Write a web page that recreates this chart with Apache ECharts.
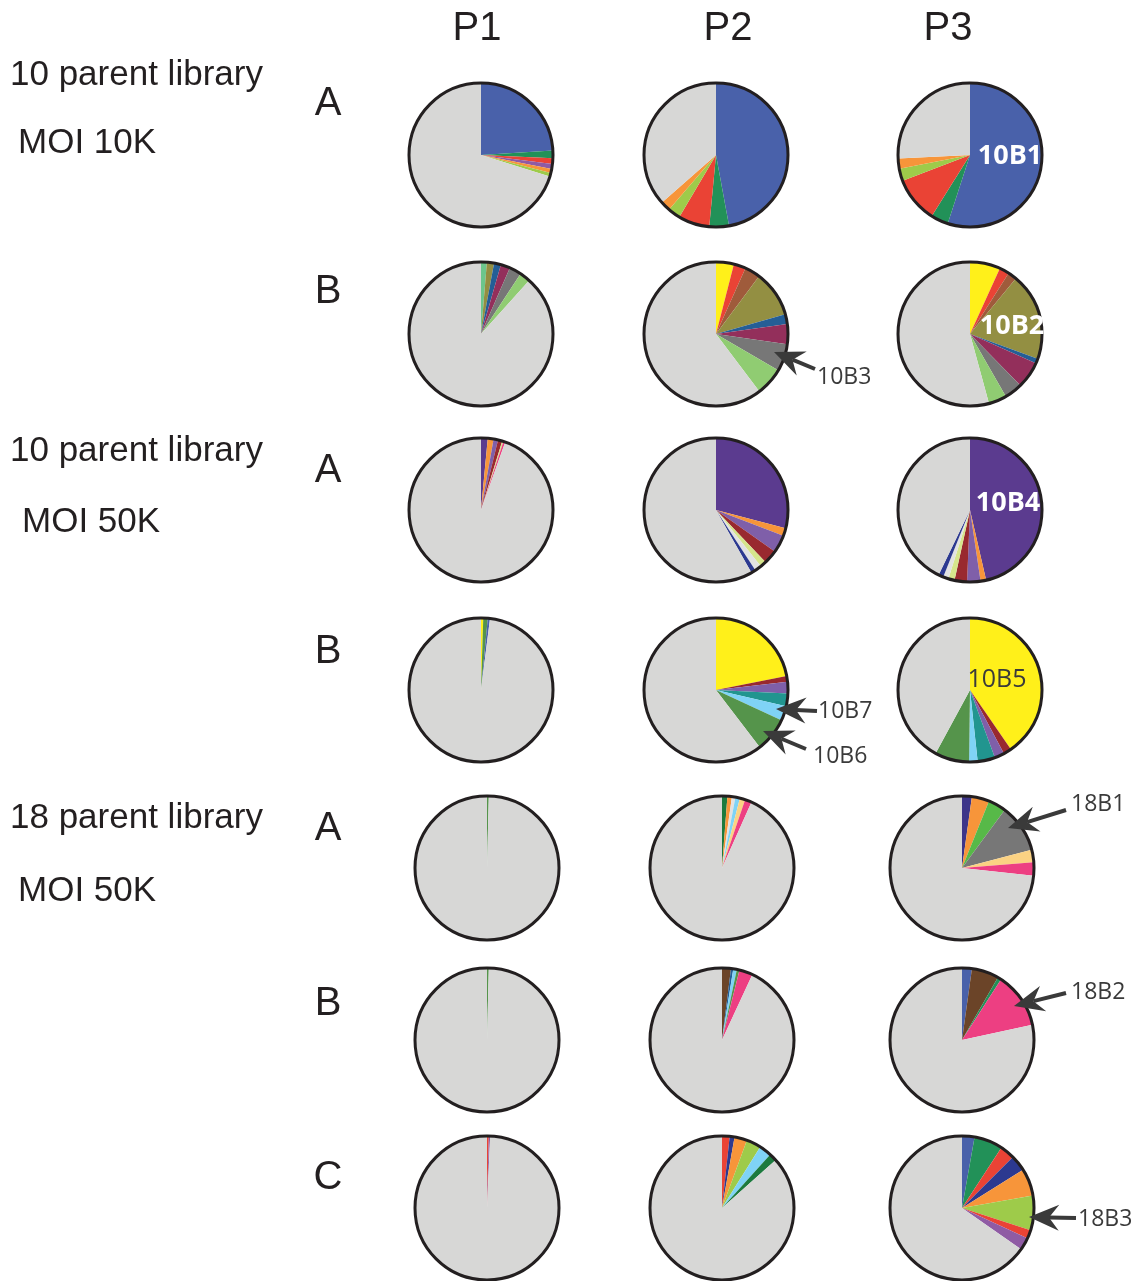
<!DOCTYPE html>
<html>
<head>
<meta charset="utf-8">
<script src="https://cdn.jsdelivr.net/npm/echarts@6/dist/echarts.min.js"></script>
<style>
  html, body { margin: 0; padding: 0; background: #fff; }
  #chart { width: 1140px; height: 1281px; }
</style>
</head>
<body>
<div id="chart"></div>
<script>
// Passage columns and experiment groups
const passages = ['P1', 'P2', 'P3'];
const groupTitles = ['10 parent library', '10 parent library', '18 parent library'];
const groupMoi = ['MOI 10K', 'MOI 50K', 'MOI 50K'];
const replicateLetters = ['A', 'B', 'A', 'B', 'A', 'B', 'C'];

// Clone shares (%) per replicate and passage; the last entry is all remaining clones
const tenK_A_P1 = [24, 1.7, 1.3, 1.1, 0.9, 0.8, 70.2];
const tenK_A_P1_clones = ['blue', 'green', 'red', 'purple', 'orange', 'lime', 'other'];
const tenK_A_P2 = [47.1, 4.4, 7.0, 2.8, 2.2, 36.5];
const tenK_A_P2_clones = ['blue', 'green', 'red', 'lime', 'orange', 'other'];
const tenK_A_P3 = [55.0, 3.9, 10.3, 2.75, 2.25, 25.8];
const tenK_A_P3_clones = ['blue', 'green', 'red', 'lime', 'orange', 'other'];

const tenK_B_P1 = [1.3, 1.6, 1.55, 2.1, 2.7, 2.4, 88.3];
const tenK_B_P1_clones = ['mint', 'olive', 'steel', 'maroon', 'grey', 'leaf', 'other'];
const tenK_B_P2 = [4.0, 2.7, 3.5, 10.4, 2.2, 4.5, 6.1, 6.3, 60.3];
const tenK_B_P2_clones = ['yellow', 'red', 'brown', 'olive', 'steel', 'maroon', 'grey', 'leaf', 'other'];
const tenK_B_P3 = [6.8, 2.2, 2.0, 19.6, 1.05, 6.0, 4.05, 4.05, 54.25];
const tenK_B_P3_clones = ['yellow', 'red', 'brown', 'olive', 'steel', 'maroon', 'grey', 'leaf', 'other'];

const fiftyK_A_P1 = [1.5, 1.3, 1.0, 0.95, 0.3, 0.4, 94.55];
const fiftyK_A_P1_clones = ['violet', 'orange', 'lavender', 'wine', 'pale', 'pink', 'other'];
const fiftyK_A_P2 = [29.1, 1.7, 4.0, 3.1, 1.4, 1.5, 1.0, 58.2];
const fiftyK_A_P2_clones = ['violet', 'orange', 'lavender', 'wine', 'pale', 'silver', 'navy', 'other'];
const fiftyK_A_P3 = [46.4, 1.25, 3.0, 2.8, 1.4, 1.2, 1.1, 42.85];
const fiftyK_A_P3_clones = ['violet', 'orange', 'lavender', 'wine', 'pale', 'silver', 'navy', 'other'];

const fiftyK_B_P1 = [0.5, 1.0, 0.5, 98.0];
const fiftyK_B_P1_clones = ['yellow', 'fern', 'blue', 'other'];
const fiftyK_B_P2 = [21.9, 1.3, 2.6, 2.8, 3.3, 7.7, 60.4];
const fiftyK_B_P2_clones = ['yellow', 'wine', 'lavender', 'teal', 'sky', 'fern', 'other'];
const fiftyK_B_P3 = [40.4, 1.8, 2.2, 3.9, 1.9, 7.7, 42.1];
const fiftyK_B_P3_clones = ['yellow', 'wine', 'lavender', 'teal', 'sky', 'fern', 'other'];

const lib18_A_P1 = [0.4, 99.6];
const lib18_A_P1_clones = ['fern', 'other'];
const lib18_A_P2 = [1.2, 1.0, 0.8, 1.0, 1.2, 1.5, 93.3];
const lib18_A_P2_clones = ['forest', 'orange', 'silver', 'sky', 'peach', 'pink', 'other'];
const lib18_A_P3 = [2.2, 3.9, 4.0, 10.8, 2.8, 3.0, 73.3];
const lib18_A_P3_clones = ['indigo', 'orange', 'leafgreen', 'grey', 'peach', 'pink', 'other'];

const lib18_B_P1 = [0.4, 99.6];
const lib18_B_P1_clones = ['fern', 'other'];
const lib18_B_P2 = [2.0, 0.5, 0.8, 0.6, 3.0, 93.1];
const lib18_B_P2_clones = ['cocoa', 'steel', 'sky', 'fern', 'pink', 'other'];
const lib18_B_P3 = [2.2, 6.1, 0.8, 12.5, 78.4];
const lib18_B_P3_clones = ['blue', 'cocoa', 'green', 'pink', 'other'];

const lib18_C_P1 = [0.4, 0.3, 99.3];
const lib18_C_P1_clones = ['red', 'purple', 'other'];
const lib18_C_P2 = [1.7, 1.1, 2.8, 3.3, 2.8, 1.7, 86.6];
const lib18_C_P2_clones = ['red', 'navy', 'orange', 'lime', 'sky', 'forest', 'other'];
const lib18_C_P3 = [2.8, 6.4, 3.3, 3.6, 6.1, 7.8, 1.9, 2.8, 65.3];
const lib18_C_P3_clones = ['blue', 'green', 'red', 'navy', 'orange', 'lime', 'red', 'purple', 'other'];

// Callout names for highlighted clones
const calloutNames = ['10B1', '10B2', '10B3', '10B4', '10B5', '10B6', '10B7', '18B1', '18B2', '18B3'];

// Clone colour palette
const palette = {
  other: '#d7d7d6', blue: '#4961aa', green: '#229158', red: '#ea4335', purple: '#8f5ba4',
  orange: '#f7953a', lime: '#9ecb4a', mint: '#6cc68c', olive: '#938f42', steel: '#245e96',
  maroon: '#932f5b', grey: '#777777', leaf: '#90cc72', yellow: '#fff01a', brown: '#9f5b3b',
  violet: '#5b3b8f', lavender: '#7f5fa9', wine: '#99292f', pale: '#d6e58c', pink: '#ed3f82',
  silver: '#e2e2e2', navy: '#2c3990', fern: '#55944b', teal: '#21958f', sky: '#7fd3f6',
  forest: '#1c7a3e', peach: '#fbd283', indigo: '#3d3589', leafgreen: '#57b948', cocoa: '#6b4428'
};

const grid = [
  [[tenK_A_P1, tenK_A_P1_clones], [tenK_A_P2, tenK_A_P2_clones], [tenK_A_P3, tenK_A_P3_clones]],
  [[tenK_B_P1, tenK_B_P1_clones], [tenK_B_P2, tenK_B_P2_clones], [tenK_B_P3, tenK_B_P3_clones]],
  [[fiftyK_A_P1, fiftyK_A_P1_clones], [fiftyK_A_P2, fiftyK_A_P2_clones], [fiftyK_A_P3, fiftyK_A_P3_clones]],
  [[fiftyK_B_P1, fiftyK_B_P1_clones], [fiftyK_B_P2, fiftyK_B_P2_clones], [fiftyK_B_P3, fiftyK_B_P3_clones]],
  [[lib18_A_P1, lib18_A_P1_clones], [lib18_A_P2, lib18_A_P2_clones], [lib18_A_P3, lib18_A_P3_clones]],
  [[lib18_B_P1, lib18_B_P1_clones], [lib18_B_P2, lib18_B_P2_clones], [lib18_B_P3, lib18_B_P3_clones]],
  [[lib18_C_P1, lib18_C_P1_clones], [lib18_C_P2, lib18_C_P2_clones], [lib18_C_P3, lib18_C_P3_clones]]
];

// Layout
const rowY = [155, 334, 510, 690, 868, 1040, 1208];
const colXTop = [481, 716, 970];
const colXBottom = [487, 722, 962];
const R = 72;
const OUTLINE = '#231f20';
const INK = '#3a3a3a';

const series = [];
grid.forEach((row, r) => {
  row.forEach(([values, clones], c) => {
    const cx = (r < 4 ? colXTop : colXBottom)[c];
    const cy = rowY[r];
    series.push({
      type: 'pie', center: [cx, cy], radius: R, startAngle: 90, clockwise: true,
      silent: true, animation: false, label: { show: false }, labelLine: { show: false },
      emphasis: { disabled: true },
      itemStyle: { borderWidth: 0 },
      data: values.map((v, i) => ({ value: v, name: clones[i], itemStyle: { color: palette[clones[i]] } }))
    });
    series.push({
      type: 'pie', center: [cx, cy], radius: R, silent: true, animation: false,
      label: { show: false }, labelLine: { show: false }, emphasis: { disabled: true },
      z: 5,
      data: [{ value: 1, itemStyle: { color: 'rgba(0,0,0,0)', borderColor: OUTLINE, borderWidth: 3 } }]
    });
  });
});

const graphic = [];
function text(str, x, y, font, fill, align) {
  graphic.push({ type: 'text', silent: true, z: 10,
    style: { text: str, x, y, font, fill: fill || '#231f20', align: align || 'center', verticalAlign: 'middle' } });
}
// arrow from tail (tx,ty) to tip (hx,hy)
function arrow(tx, ty, hx, hy) {
  const dx = hx - tx, dy = hy - ty, len = Math.hypot(dx, dy);
  const ux = dx / len, uy = dy / len, px = -uy, py = ux;
  const headLen = 30, half = 13, notch = 20;
  const bx = hx - ux * headLen, by = hy - uy * headLen;
  const nx = hx - ux * notch, ny = hy - uy * notch;
  graphic.push({ type: 'line', silent: true, z: 10,
    shape: { x1: tx, y1: ty, x2: nx, y2: ny }, style: { stroke: INK, lineWidth: 4 } });
  graphic.push({ type: 'polygon', silent: true, z: 10,
    shape: { points: [[hx, hy], [bx + px * half, by + py * half], [nx, ny], [bx - px * half, by - py * half]] },
    style: { fill: INK } });
}

// Column headings
const headX = [477, 728, 948];
passages.forEach((p, i) => text(p, headX[i], 29, '40px "Liberation Sans"', '#231f20'));
// Group labels
const groupY = [[75, 143, 10, 18], [451, 522, 10, 22], [818, 891, 10, 18]];
groupTitles.forEach((t, i) => {
  text(t, groupY[i][2], groupY[i][0], '35px "Liberation Sans"', '#231f20', 'left');
  text(groupMoi[i], groupY[i][3], groupY[i][1], '35px "Liberation Sans"', '#231f20', 'left');
});
// Replicate letters
const letterY = [104, 292, 471, 652, 829, 1004, 1178];
replicateLetters.forEach((l, i) => text(l, 328, letterY[i], '40px "Liberation Sans"', '#231f20'));

// Names printed inside dominant slices
const inFont = 'bold 27px "Open Sans"';
text(calloutNames[0], 1010, 156, inFont, '#ffffff');
text(calloutNames[1], 1012, 326, inFont, '#ffffff');
text(calloutNames[3], 1008, 503, inFont, '#ffffff');
text(calloutNames[4], 997, 680, '25px "Open Sans"', '#3a3a3a');

// Arrow callouts
const cFont = '23px "Open Sans"';
arrow(815, 369, 774, 352); text(calloutNames[2], 817, 377, cFont, INK, 'left');
arrow(817, 711, 776, 709); text(calloutNames[6], 818, 711, cFont, INK, 'left');
arrow(806, 749, 763, 731); text(calloutNames[5], 813, 756, cFont, INK, 'left');
arrow(1066, 810, 1008, 828); text(calloutNames[7], 1071, 804, cFont, INK, 'left');
arrow(1066, 993, 1014, 1006); text(calloutNames[8], 1071, 992, cFont, INK, 'left');
arrow(1076, 1218, 1029, 1217); text(calloutNames[9], 1078, 1219, cFont, INK, 'left');

const chart = echarts.init(document.getElementById('chart'), null, { renderer: 'canvas' });
chart.setOption({ backgroundColor: '#ffffff', animation: false, series, graphic });
</script>
</body>
</html>
